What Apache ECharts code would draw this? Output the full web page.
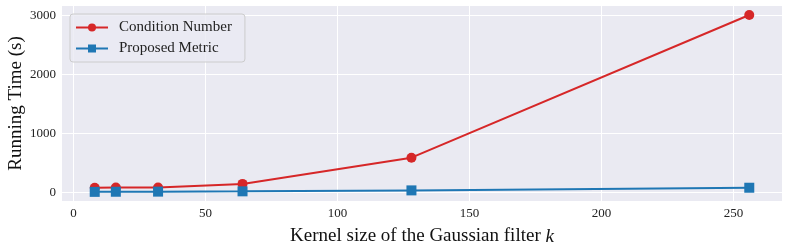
<!DOCTYPE html>
<html><head><meta charset="utf-8">
<script src="https://cdn.jsdelivr.net/npm/echarts@6/dist/echarts.min.js"></script>
<style>html,body{margin:0;padding:0;background:#fff}#c{width:789px;height:245px}</style>
</head><body><div id="c"></div>
<script>
const kernelSizes = [8, 16, 32, 64, 128, 256];
const conditionNumber = [75, 78, 80, 140, 585, 3005];
const proposedMetric = [5, 7, 9, 14, 30, 75];
const xTicks = [0, 50, 100, 150, 200, 250];
const yTicks = [0, 1000, 2000, 3000];
const seriesNames = ['Condition Number', 'Proposed Metric'];

const font = 'Liberation Serif';
const chart = echarts.init(document.getElementById('c'), null, {renderer: 'canvas'});
const pairs = a => kernelSizes.map((k, i) => [k, a[i]]);
chart.setOption({
  animation: false,
  backgroundColor: '#fff',
  grid: {left: 62, right: 7, top: 6, bottom: 44, backgroundColor: '#eaeaf2', show: true, borderWidth: 0,
         containLabel: false, outerBoundsMode: 'none'},
  xAxis: {
    type: 'value', min: -4.4, max: 268.4,
    name: '{n|Kernel size of the Gaussian filter }{k|k}', nameLocation: 'middle', nameGap: 26,
    nameMoveOverlap: false,
    nameTextStyle: {fontFamily: font, fontSize: 19, color: '#111',
      rich: {n: {fontFamily: font, fontSize: 19, color: '#111'}, k: {fontFamily: font, fontSize: 19, fontStyle: 'italic', color: '#111'}}},
    axisLine: {show: false}, axisTick: {show: false, customValues: xTicks},
    axisLabel: {customValues: xTicks, fontFamily: font, fontSize: 13, color: '#222', margin: 6, formatter: v => String(v)},
    splitLine: {show: true, lineStyle: {color: '#fff', width: 1}}
  },
  yAxis: {
    type: 'value', min: -150, max: 3158,
    name: 'Running Time (s)', nameLocation: 'middle', nameGap: 36,
    nameMoveOverlap: false,
    nameTextStyle: {fontFamily: font, fontSize: 19, color: '#111'},
    axisLine: {show: false}, axisTick: {show: false, customValues: yTicks},
    axisLabel: {customValues: yTicks, fontFamily: font, fontSize: 13, color: '#222', margin: 6, formatter: v => String(v)},
    splitLine: {show: true, lineStyle: {color: '#fff', width: 1}}
  },
  legend: {
    left: 70, top: 14, orient: 'vertical',
    itemWidth: 32, itemHeight: 10, itemGap: 6,
    padding: [6, 13, 6, 5],
    backgroundColor: 'rgba(234,234,242,0.8)', borderColor: '#cccccc', borderWidth: 1, borderRadius: 3,
    textStyle: {fontFamily: font, fontSize: 15, color: '#222', padding: [0, 0, 0, 6]},
    data: seriesNames
  },
  series: [
    {name: seriesNames[0], type: 'line', data: pairs(conditionNumber), color: '#d62728',
     symbol: 'circle', symbolSize: 10, lineStyle: {width: 2}},
    {name: seriesNames[1], type: 'line', data: pairs(proposedMetric), color: '#1f77b4',
     symbol: 'rect', symbolSize: 10, lineStyle: {width: 2}}
  ]
});
</script></body></html>
